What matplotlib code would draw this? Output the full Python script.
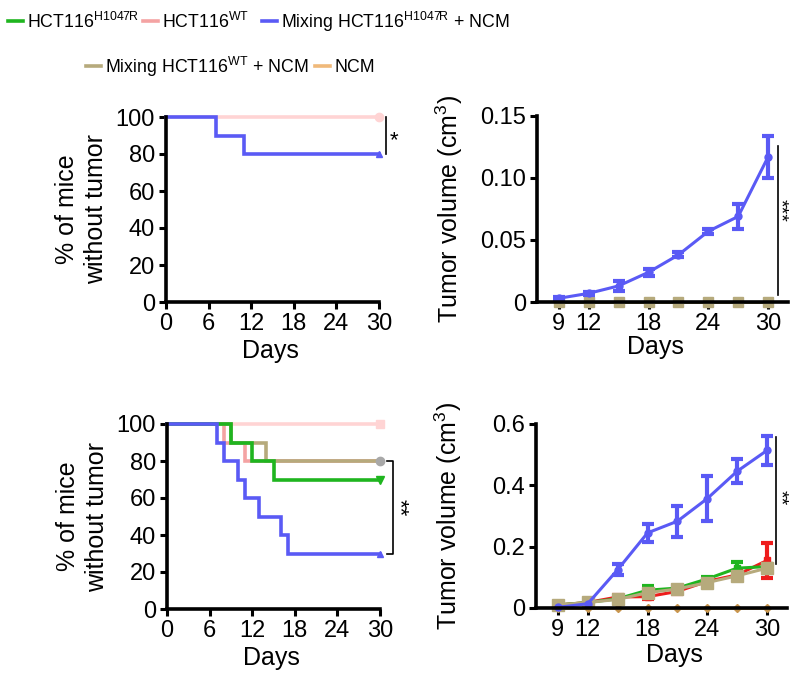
import matplotlib
matplotlib.use("Agg")
import matplotlib.pyplot as plt
from matplotlib.lines import Line2D

plt.rcParams['font.family'] = ['Liberation Sans', 'DejaVu Sans']
plt.rcParams['mathtext.fontset'] = 'custom'
plt.rcParams['mathtext.rm'] = 'Liberation Sans'
plt.rcParams['mathtext.it'] = 'Liberation Sans:italic'
plt.rcParams['mathtext.bf'] = 'Liberation Sans:bold'

# colours
c_h1047r = "#1fb51f"
c_wt = "#f4a3a3"
c_wt_red = "#ee1c1c"
c_mixh = "#5a5af5"
c_mixwt = "#b6aa7c"
c_ncm = "#f0b97a"
c_ncm_dark = "#c8964f"
c_light = "#ffd4d4"
c_grey = "#a8a8a8"

legend_labels = ["HCT116$^{\\mathrm{H1047R}}$", "HCT116$^{\\mathrm{WT}}$",
                 "Mixing HCT116$^{\\mathrm{H1047R}}$ + NCM",
                 "Mixing HCT116$^{\\mathrm{WT}}$ + NCM", "NCM"]
legend_colors = [c_h1047r, c_wt, c_mixh, c_mixwt, c_ncm]

# top survival panel
top_km_ctrl_days = [0, 30]
top_km_ctrl_surv = [100, 100]
top_km_mix_days = [0, 7, 11, 30]
top_km_mix_surv = [100, 90, 80, 80]

# bottom survival panel
bot_km_ctrl_days = [0, 30]
bot_km_ctrl_surv = [100, 100]
bot_km_wt_days = [0, 8, 11, 30]
bot_km_wt_surv = [100, 90, 80, 80]
bot_km_mixwt_days = [0, 9, 14, 30]
bot_km_mixwt_surv = [100, 90, 80, 80]
bot_km_h1047r_days = [0, 9, 12, 15, 30]
bot_km_h1047r_surv = [100, 90, 80, 70, 70]
bot_km_mixh_days = [0, 7, 8, 10, 11, 13, 16, 17, 30]
bot_km_mixh_surv = [100, 90, 80, 70, 60, 50, 40, 30, 30]

# tumor volume
vol_days = [9, 12, 15, 18, 21, 24, 27, 30]
top_vol_mixh = [0.003, 0.007, 0.013, 0.024, 0.038, 0.057, 0.069, 0.117]
top_vol_mixh_err = [0.001, 0.001, 0.004, 0.003, 0.002, 0.002, 0.010, 0.017]
top_vol_zero = [0, 0, 0, 0, 0, 0, 0, 0]

bot_vol_mixh = [0.002, 0.014, 0.125, 0.245, 0.283, 0.357, 0.446, 0.514]
bot_vol_mixh_err = [0.003, 0.004, 0.018, 0.030, 0.050, 0.072, 0.040, 0.047]
bot_vol_wt = [0.010, 0.018, 0.036, 0.037, 0.054, 0.087, 0.108, 0.155]
bot_vol_wt_err = [0.002, 0.003, 0.008, 0.008, 0.008, 0.006, 0.012, 0.057]
bot_vol_h1047r = [0.010, 0.018, 0.030, 0.058, 0.065, 0.095, 0.130, 0.135]
bot_vol_h1047r_err = [0.002, 0.003, 0.005, 0.015, 0.008, 0.006, 0.020, 0.010]
bot_vol_mixwt = [0.010, 0.018, 0.028, 0.050, 0.062, 0.083, 0.105, 0.130]
bot_vol_mixwt_err = [0.002, 0.003, 0.005, 0.010, 0.008, 0.008, 0.010, 0.015]
bot_vol_ncm = [0, 0, 0, 0, 0, 0, 0, 0]

W, H = 790, 675
fig = plt.figure(figsize=(W / 100, H / 100), dpi=100)


def rect(l, r, t, b):
    return [l / W, 1 - b / H, (r - l) / W, (b - t) / H]


def style(ax):
    for s in ["top", "right"]:
        ax.spines[s].set_visible(False)
    for s in ["left", "bottom"]:
        ax.spines[s].set_linewidth(2.6)
    ax.tick_params(width=2.2, length=5, labelsize=17, pad=3)


ax1 = fig.add_axes(rect(166, 379, 117, 302))
ax2 = fig.add_axes(rect(537, 788, 116, 302))
ax3 = fig.add_axes(rect(167, 380, 424, 609))
ax4 = fig.add_axes(rect(536, 787, 424, 608))

for ax in (ax1, ax3):
    style(ax)
    ax.set_xlim(0, 30)
    ax.set_ylim(0, 100)
    ax.set_xticks([0, 6, 12, 18, 24, 30])
    ax.set_yticks([0, 20, 40, 60, 80, 100])
    ax.set_xlabel("Days", fontsize=18)
    ax.set_ylabel("% of mice\nwithout tumor", fontsize=18, linespacing=1.3)
    ax.yaxis.set_label_coords(-0.27, 0.5)
    ax.xaxis.set_label_coords(0.49, -0.2)

kw = dict(where="post", lw=2.6, clip_on=False, solid_joinstyle="miter")

# top survival
ax1.step(top_km_ctrl_days, top_km_ctrl_surv, color=c_light, **kw)
ax1.plot(top_km_ctrl_days[-1], top_km_ctrl_surv[-1], "o", color=c_light, ms=6, clip_on=False)
ax1.step(top_km_mix_days, top_km_mix_surv, color=c_mixh, **kw)
ax1.plot(top_km_mix_days[-1], top_km_mix_surv[-1], "^", color=c_mixh, ms=5, clip_on=False)
ax1.plot([31, 31], [80, 100], color="black", lw=1.2, clip_on=False)
ax1.text(31.5, 87, "*", fontsize=16, ha="left", va="center")

# bottom survival
ax3.step(bot_km_ctrl_days, bot_km_ctrl_surv, color=c_light, **kw)
ax3.plot(bot_km_ctrl_days[-1], bot_km_ctrl_surv[-1], "s", color=c_light, ms=6, clip_on=False)
ax3.step(bot_km_wt_days, bot_km_wt_surv, color=c_wt, **kw)
ax3.step(bot_km_mixwt_days, bot_km_mixwt_surv, color=c_mixwt, **kw)
ax3.plot(bot_km_mixwt_days[-1], bot_km_mixwt_surv[-1], "o", color=c_grey, ms=6, clip_on=False)
ax3.step(bot_km_h1047r_days, bot_km_h1047r_surv, color=c_h1047r, **kw)
ax3.plot(bot_km_h1047r_days[-1], bot_km_h1047r_surv[-1], "v", color=c_h1047r, ms=6, clip_on=False)
ax3.step(bot_km_mixh_days, bot_km_mixh_surv, color=c_mixh, **kw)
ax3.plot(bot_km_mixh_days[-1], bot_km_mixh_surv[-1], "^", color=c_mixh, ms=5, clip_on=False)
ax3.plot([31.0, 31.8, 31.8, 31.0], [80, 80, 30, 30], color="black", lw=1.2, clip_on=False)
ax3.text(32.7, 55, "**", fontsize=16, rotation=-90, ha="center", va="center")

# tumor volume panels
for ax in (ax2, ax4):
    style(ax)
    ax.set_xlim(6.8, 32.0)
    ax.set_xticks([9, 12, 18, 24, 30])
    ax.set_xlabel("Days", fontsize=18)
    ax.set_ylabel("Tumor volume (cm$^{3}$)", fontsize=18)
    ax.yaxis.set_label_coords(-0.285, 0.5)

ax2.set_ylim(0, 0.15)
ax2.set_yticks([0, 0.05, 0.10, 0.15])
ax2.set_yticklabels(["0", "0.05", "0.10", "0.15"])
ax2.xaxis.set_label_coords(0.47, -0.18)
ax4.set_ylim(0, 0.6)
ax4.set_yticks([0, 0.2, 0.4, 0.6])
ax4.set_yticklabels(["0", "0.2", "0.4", "0.6"])
ax4.xaxis.set_label_coords(0.55, -0.19)

ebkw = dict(lw=2.2, elinewidth=3, capsize=4, capthick=3, clip_on=False)

ax2.plot(vol_days, top_vol_zero, color=c_h1047r, lw=2, clip_on=False)
ax2.plot(vol_days, top_vol_zero, color=c_ncm_dark, lw=2, clip_on=False)
ax2.plot(vol_days, top_vol_zero, "s-", color="#8f8550", mfc=c_mixwt, mec=c_mixwt,
         ms=7, lw=2, clip_on=False)
ax2.errorbar(vol_days, top_vol_mixh, yerr=top_vol_mixh_err, fmt="o-", color=c_mixh,
             ms=5, **ebkw)
ax2.plot([31.0, 31.0], [0.006, 0.126], color="black", lw=1.2, clip_on=False)
ax2.text(31.2, 0.074, "***", fontsize=14, rotation=-90, ha="center", va="center")

ax4.plot(vol_days, bot_vol_ncm, "D-", color=c_ncm_dark, ms=4, lw=2, clip_on=False)
ax4.errorbar(vol_days, bot_vol_wt, yerr=bot_vol_wt_err, fmt="s-", color=c_wt_red, ms=5, **ebkw)
ax4.errorbar(vol_days, bot_vol_h1047r, yerr=bot_vol_h1047r_err, fmt="s-", color=c_h1047r, ms=5, **ebkw)
ax4.errorbar(vol_days, bot_vol_mixwt, yerr=bot_vol_mixwt_err, fmt="s-", color=c_mixwt, ms=8, **ebkw)
ax4.errorbar(vol_days, bot_vol_mixh, yerr=bot_vol_mixh_err, fmt="o-", color=c_mixh, ms=5, **ebkw)
ax4.plot([30.87, 30.87], [0.145, 0.558], color="black", lw=1.2, clip_on=False)
ax4.text(31.3, 0.36, "**", fontsize=14, rotation=-90, ha="center", va="center")

# legend drawn by hand
legend_pos = [(8, 21), (143, 21), (262, 21), (86, 66), (315, 66)]
for (x, y), lab, col in zip(legend_pos, legend_labels, legend_colors):
    fig.add_artist(Line2D([x / W, (x + 15) / W], [1 - y / H, 1 - y / H],
                          color=col, lw=2.6, transform=fig.transFigure))
    fig.text((x + 19) / W, 1 - (y + 1) / H, lab, fontsize=12.8,
             ha="left", va="center")

fig.savefig("out.png", dpi=100)
